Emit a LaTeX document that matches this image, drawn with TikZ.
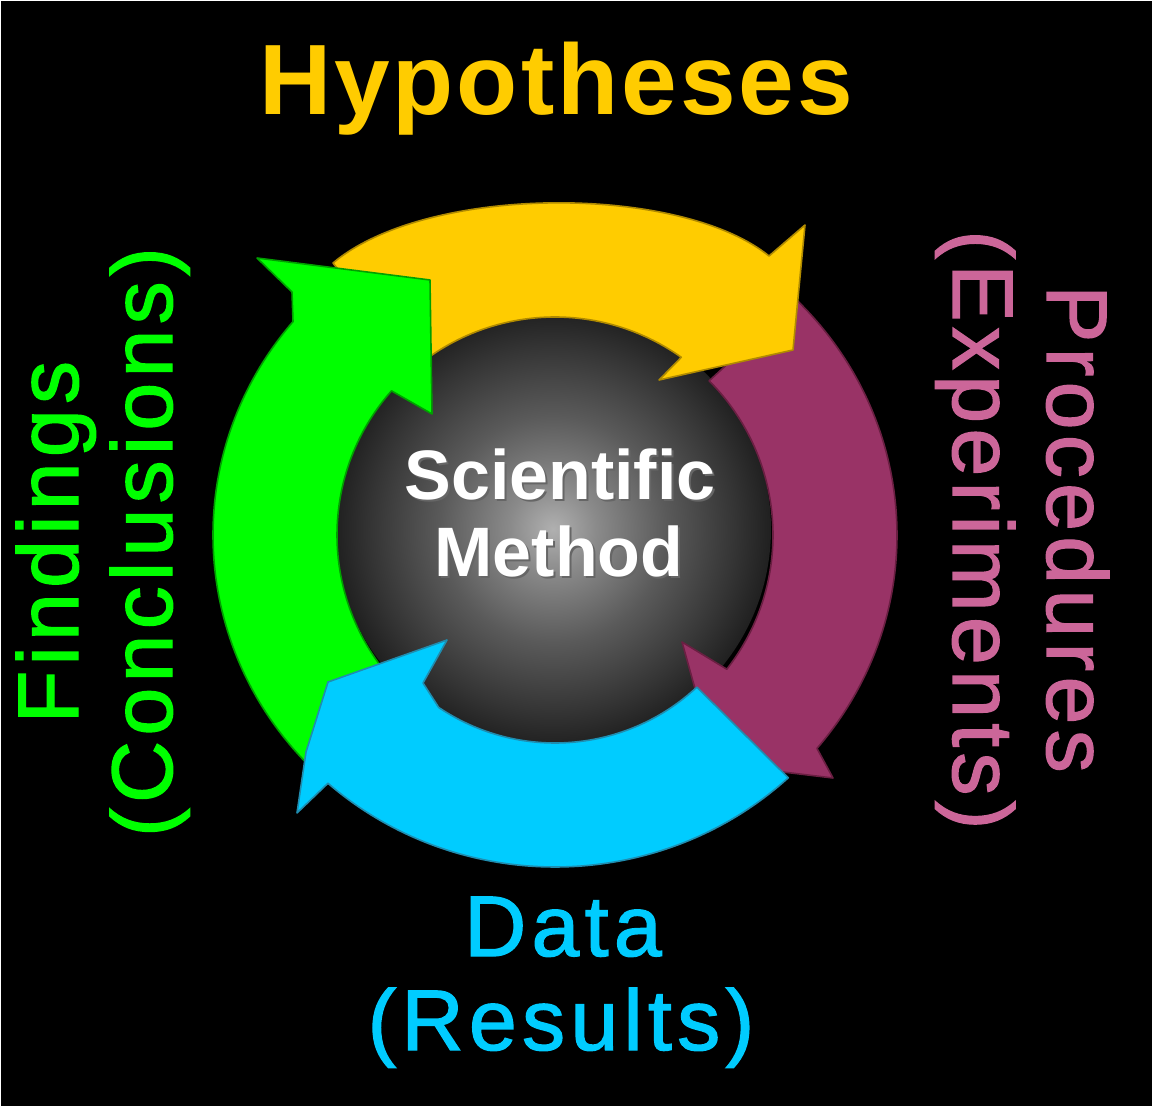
\documentclass[tikz,border=0pt]{standalone}
\usepackage{fontspec}
\setmainfont{Liberation Sans}
\newfontfamily\lblfont[LetterSpace=6.2, FakeBold=1.5]{Liberation Sans}
\newfontfamily\hypfont[LetterSpace=3]{Liberation Sans Bold}
\usetikzlibrary{calc}
\definecolor{hypY}{HTML}{FFCC00}
\definecolor{hypYd}{HTML}{B08A00}
\definecolor{procP}{HTML}{993366}
\definecolor{procPd}{HTML}{6A1F42}
\definecolor{procT}{HTML}{CC6699}
\definecolor{dataC}{HTML}{00CCFF}
\definecolor{dataCd}{HTML}{1F8DB0}
\definecolor{findG}{HTML}{00FF00}
\definecolor{findGd}{HTML}{00A000}
\definecolor{sphA}{HTML}{B0B0B0}
\definecolor{sphB}{HTML}{8A8A8A}
\definecolor{sphC}{HTML}{5A5A5A}
\definecolor{sphD}{HTML}{343434}
\definecolor{sphE}{HTML}{202020}
\pgfdeclareradialshading{sphereshade}{\pgfpoint{0bp}{0bp}}{color(0bp)=(sphA); color(5bp)=(sphB); color(13bp)=(sphC); color(21bp)=(sphD); color(25bp)=(sphE); color(50bp)=(sphE)}
\tikzset{
  arrowshape/.style={line width=0.8pt, line join=round},
  lbl/.style={font=\lblfont\fontsize{43}{50}\selectfont, anchor=base, inner sep=0pt},
  ctr/.style={font=\bfseries\fontsize{35}{40}\selectfont, text=white, anchor=base, inner sep=0pt}
}
\begin{document}
\begin{tikzpicture}[x=0.5pt,y=-0.5pt]
\fill[black] (0,0) rectangle (1152,1106);
\useasboundingbox (0,0) rectangle (1152,1106);
\draw[white, line width=1pt] (0,1106) -- (0,0) -- (1152,0);
\coordinate (C) at (555,535);
% sphere
\shade[shading=sphereshade] (553,529) circle[radius=218];
% purple arrow (bottom-most)
\filldraw[arrowshape, fill=procP, draw=procPd]
  ($(C)+(-45:342 and 332)$) arc[start angle=-45, end angle=40, x radius=342, y radius=332]
  -- (833,778) -- (716,764) -- (682,642)
  -- ($(C)+(38:218)$) arc[start angle=38, end angle=-45, radius=218] -- cycle;
% yellow arrow
\filldraw[arrowshape, fill=hypY, draw=hypYd]
  (333,263) .. controls (427,184) and (680,184) .. (769,256)
  -- (805,225) -- (793,350) -- (659,380)
  -- ($(C)+(-54.6:218)$) arc[start angle=-54.6, end angle=-130, radius=218] -- cycle;
% green arrow
\filldraw[arrowshape, fill=findG, draw=findGd]
  ($(C)+(136:342 and 332)$) arc[start angle=136, end angle=220, x radius=342, y radius=332]
  -- (292,292) -- (257,258) -- (430,280) -- (432,414)
  -- ($(C)+(221.4:218)$) arc[start angle=221.4, end angle=136, radius=218] -- cycle;
% cyan arrow
\filldraw[arrowshape, fill=dataC, draw=dataCd]
  ($(C)+(47:342 and 332)$) arc[start angle=47, end angle=131.6, x radius=342, y radius=332]
  -- (297,813) -- (306,752) -- (328,682) -- (447,640) -- (423,683)
  -- ($(C)+(124:208)$) arc[start angle=124, end angle=47, radius=208] -- cycle;
% centre text
\node[ctr, text=black!60] at (562,502) {Scientific};
\node[ctr, text=black!60] at (561,579) {Method};
\node[ctr] (sci) at (560,500) {Scientific};
\node[ctr] (met) at (559,577) {Method};
% labels
\node[font=\hypfont\fontsize{50}{60}\selectfont, text=hypY, anchor=base, inner sep=0pt] (hyp) at (556,115) {Hypotheses};
\node[lbl, text=dataC] (data) at (563,956) {Data};
\node[lbl, text=dataC] (res) at (561,1050) {(Results)};
\node[lbl, text=findG, rotate=90] (find) at (78,542) {Findings};
\node[lbl, text=findG, rotate=90] (conc) at (172,542) {(Conclusions)};
\node[lbl, text=procT, rotate=-90] (proc) at (1047,529) {Procedures};
\node[lbl, text=procT, rotate=-90] (exp) at (953,530) {(Experiments)};
\end{tikzpicture}
\end{document}
